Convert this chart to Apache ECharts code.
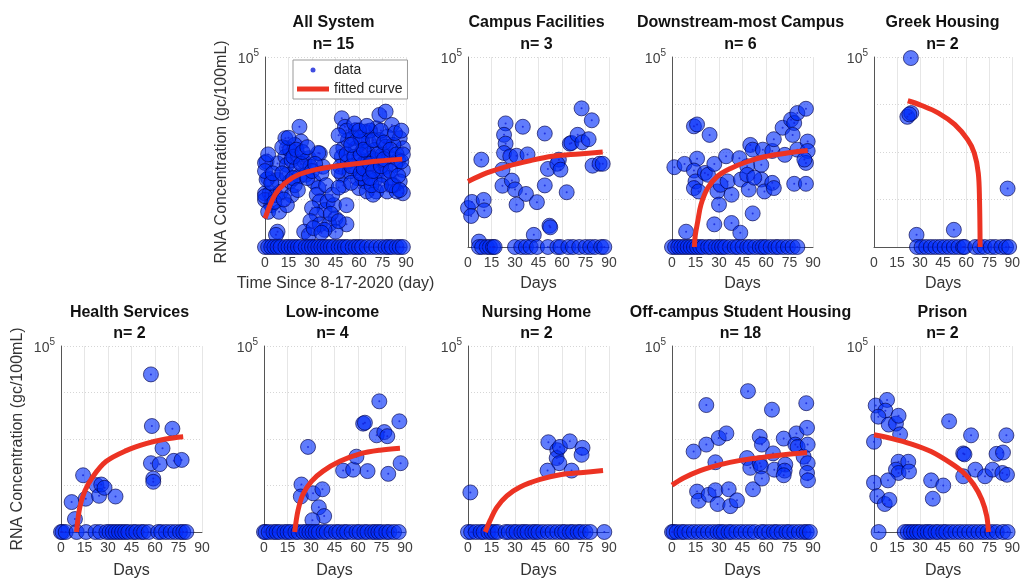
<!DOCTYPE html>
<html>
<head>
<meta charset="utf-8">
<script src="https://cdn.jsdelivr.net/npm/echarts@6/dist/echarts.min.js"></script>
<style>
  html, body { margin: 0; padding: 0; background: #ffffff; }
  #chart { width: 1023px; height: 580px; }
</style>
</head>
<body>
<div id="chart"></div>
<script>
// ---- Sampling sites and sample counts ----
const siteNames = ['All System', 'Campus Facilities', 'Downstream-most Campus', 'Greek Housing',
  'Health Services', 'Low-income', 'Nursing Home', 'Off-campus Student Housing', 'Prison'];
const siteCounts = [15, 3, 6, 2, 2, 4, 2, 18, 2];

// Non-detect samples sit on the axis floor (gc/100mL)
const nonDetectLevel = 10;

// ---- Detected samples: [day since 8-17-2020, RNA concentration gc/100mL] ----
const allSystemPts = [
  [1, 630], [2, 280], [0, 135], [3, 135], [0, 98], [4, 76], [2, 55], [8, 575], [8, 257], [7, 123],
  [9, 55], [8, 21], [13, 1950], [14, 1200], [13, 794], [16, 1100], [14, 537], [17, 676], [14, 331],
  [16, 240], [10, 145], [17, 123], [14, 76], [22, 3390], [23, 1660], [21, 871], [20, 457], [22, 309],
  [19, 200], [25, 631], [26, 331], [28, 741], [29, 490], [35, 933], [37, 490], [31, 240], [34, 174],
  [33, 126], [35, 91], [38, 60], [30, 66], [33, 48], [29, 35], [35, 30], [40, 91], [44, 76], [45, 40],
  [41, 30], [52, 76], [52, 30], [25, 21], [28, 18], [45, 21], [38, 23], [19, 1410], [7, 18], [0, 589],
  [1, 263], [0, 117], [34, 955],
  [0, 398], [2, 891], [4, 224], [5, 355], [6, 89], [11, 1260], [11, 355], [12, 100], [15, 1995], [18, 794],
  [18, 282], [20, 1120], [21, 158], [23, 562], [24, 1000], [27, 1260], [27, 282], [30, 398], [32, 562],
  [36, 355], [39, 200], [42, 50], [31, 25], [36, 20], [43, 126], [47, 35],
  [49, 5130], [51, 3390], [58, 2880], [50, 1200], [49, 794], [48, 490], [49, 331], [50, 200], [56, 1950],
  [58, 1200], [60, 741], [58, 457], [59, 282], [60, 174], [64, 2690], [66, 1660], [65, 1020], [64, 631],
  [66, 389], [64, 240], [65, 148], [71, 3160], [73, 1780], [70, 1100], [71, 676], [73, 417], [70, 257],
  [71, 148], [69, 126], [73, 6030], [77, 7080], [81, 3720], [78, 2090], [77, 1290], [79, 794], [77, 490],
  [79, 282], [78, 148], [86, 1950], [88, 1200], [85, 676], [88, 417], [86, 240], [88, 135], [82, 1410],
  [83, 537], [82, 200], [53, 1780], [53, 631], [54, 389], [62, 1660], [62, 537], [62, 282], [68, 741],
  [68, 200], [75, 871], [75, 331], [84, 148],
  [46, 1000], [47, 398], [47, 178], [52, 2820], [52, 891], [55, 501], [55, 224], [57, 3980], [57, 794],
  [61, 1995], [61, 891], [61, 355], [63, 1120], [63, 447], [67, 2820], [67, 562], [67, 282], [69, 1780],
  [69, 398], [72, 891], [74, 2820], [74, 501], [74, 200], [76, 1585], [76, 708], [80, 1120], [80, 398],
  [81, 200], [83, 2510], [84, 891], [85, 316], [87, 631], [87, 2820], [88, 891], [86, 158], [60, 2820],
  [55, 1410], [47, 2240], [65, 3550]
];
const campusFacilitiesPts = [
  [0, 66], [2.5, 89], [2, 45], [8.5, 690], [10, 98], [10.4, 59], [7, 13], [24, 4000], [23, 2300], [24, 1500],
  [23, 950], [22, 425], [22, 195], [27, 810], [31, 835], [28, 250], [30, 163], [31, 78], [35, 3400], [38, 890],
  [37, 131], [44, 88], [42, 18], [49, 2450], [51, 440], [49, 198], [52, 28], [52.5, 26], [58, 690], [57, 565],
  [59, 425], [63, 142], [65, 1500], [66, 1550], [70, 2300], [72.5, 8300], [73, 1600], [77, 1860], [79, 4650],
  [79.5, 515], [84, 565], [86, 565]
];
const downstreamPts = [
  [1.5, 479], [8, 562], [9, 21], [14, 3470], [16, 3800], [24, 2290], [16, 724], [14, 407], [15, 240], [14, 174],
  [17, 148], [21, 363], [23, 331], [27, 562], [34.5, 813], [29, 148], [31, 204], [35.5, 240], [38, 126], [30, 78],
  [27, 30], [38, 32], [43.6, 20], [51.5, 51], [48, 501], [44, 263], [49, 162], [48, 331], [50, 1410], [51.5, 1120],
  [58, 1120], [57, 537], [57, 263], [59, 148], [64, 1050], [65, 1860], [64, 224], [65, 174], [70.6, 3240],
  [76, 4790], [78, 4070], [77, 2290], [80, 6610], [85.5, 8130], [72, 871], [80, 1120], [86.6, 1660], [86.6, 1050],
  [85.5, 589], [84.5, 692], [78, 214], [85.5, 214], [43, 741], [52.5, 288]
];
const greekHousingPts = [[24, 95000], [21.7, 5500], [24.3, 6600], [23, 6200], [27.7, 18], [52, 23], [87, 170]];
const healthServicesPts = [
  [6.8, 44], [8.9, 19], [14.1, 166], [15.8, 52], [22.6, 102], [24.3, 60], [25.7, 105], [27.8, 89], [34.8, 58],
  [57.4, 24500], [58, 1900], [57.4, 302], [58.9, 141], [58.9, 120], [63, 288], [64.8, 631], [71.1, 1660],
  [72, 339], [77, 355]
];
const lowIncomePts = [
  [28.1, 676], [23.9, 105], [23.5, 58], [31.3, 68], [37.3, 83], [35, 34], [38.4, 22], [30.9, 18], [50.5, 209],
  [56.9, 219], [59, 417], [63.3, 2140], [64.4, 2240], [66.1, 204], [73.6, 6460], [71.9, 1200], [76.8, 1410],
  [78.7, 1150], [79.3, 178], [86.4, 2400], [87.2, 302]
];
const nursingHomePts = [
  [1.5, 71], [51.3, 851], [57, 575], [56.6, 389], [58.3, 302], [58.7, 676], [65, 891], [66.1, 209],
  [73.1, 646], [72.5, 457], [50.8, 209]
];
const offCampusPts = [
  [13.8, 537], [21.9, 5370], [21.9, 759], [27.7, 316], [29.8, 1050], [34.7, 1320], [16, 74], [17, 47], [23.4, 63],
  [27.7, 79], [29.1, 40], [36.2, 83], [37.2, 36], [41.5, 48], [48.5, 10700], [47.9, 389], [50, 240], [51.7, 83],
  [56, 1120], [57.4, 759], [56, 302], [56.8, 257], [57.4, 141], [63.8, 4270], [64.5, 490], [65.3, 219],
  [71.3, 1020], [72.3, 282], [71.9, 209], [71.3, 166], [79.4, 1320], [78.7, 759], [80.2, 676], [84, 417],
  [85.7, 5890], [86.2, 1740], [86.6, 759], [86.6, 302], [86.2, 186], [86.8, 129]
];
const prisonPts = [
  [1.1, 5250], [8.5, 6920], [7.4, 4070], [2.8, 3020], [9.6, 2040], [14.3, 2140], [16, 3160], [17, 1260], [0, 871],
  [16, 324], [22.3, 324], [14.3, 219], [16, 186], [22.8, 200], [0, 115], [9.1, 129], [2.1, 59], [7, 40], [10, 49],
  [37.2, 129], [45.1, 100], [38.3, 52], [48.9, 2400], [63.2, 1200], [58.1, 490], [58.9, 468], [58.1, 158],
  [66, 219], [72.3, 158], [77.2, 219], [79.8, 479], [84, 513], [86.2, 1200], [83.6, 186], [86.6, 170]
];

// ---- Days with non-detect samples ----
const allSystemND = [0, 2, 4, 6, 8, 10, 13, 15, 17, 19, 21, 23, 26, 28, 30, 32, 34, 36, 38, 40, 42, 44, 47, 49,
  51, 53, 56, 58, 60, 62, 65, 68, 71, 74, 77, 79, 81, 84, 86, 88];
const campusFacilitiesND = [7, 9, 12, 14, 16, 17, 30, 34, 37, 40, 44, 51, 57, 59, 64, 67, 71, 75, 78, 81, 85, 87];
const downstreamND = [0, 2, 4, 6, 8, 10, 12, 14, 16, 18, 20, 23, 25, 28, 30, 32, 34, 37, 40, 42, 45, 48, 50, 53,
  56, 58, 60, 63, 66, 68, 71, 74, 77, 80];
const greekHousingND = [28, 31, 34, 37, 40, 43, 46, 49, 52, 55, 58, 59, 66, 69, 72, 76, 79, 83, 86, 88];
const healthServicesND = [0, 1, 3, 10, 16, 22, 25, 29, 31, 33, 35, 37, 39, 41, 43, 46, 48, 51, 53, 56, 62, 64,
  67, 70, 73, 76, 78, 80];
const lowIncomeND = [0, 1, 3, 6, 8, 10, 13, 15, 17, 20, 22, 25, 27, 29, 31, 33, 35, 38, 40, 43, 46, 48, 51, 53,
  56, 59, 61, 64, 66, 69, 71, 73, 75, 78, 80, 83, 86];
const nursingHomeND = [0, 2, 5, 8, 10, 13, 15, 17, 19, 24, 26, 29, 31, 34, 36, 38, 41, 43, 45, 48, 51, 54, 57,
  60, 62, 65, 67, 70, 72, 75, 78, 87];
const offCampusND = [0, 1, 3, 6, 8, 11, 14, 17, 20, 23, 26, 29, 31, 33, 36, 38, 41, 44, 47, 50, 53, 57, 59, 62,
  65, 67, 70, 73, 75, 78, 81, 84, 86, 88];
const prisonND = [3, 20, 22, 24, 26, 28, 30, 33, 35, 37, 40, 42, 45, 47, 50, 53, 56, 59, 62, 65, 68, 71, 74, 77,
  80, 84, 87];

// ---- Fitted trend curves: [day, gc/100mL] ----
const allSystemFit = [[0, 40], [6.2, 123], [12.6, 219], [21.2, 331], [34, 437], [47, 513], [59.7, 575], [72.6, 646], [87.6, 708]];
const campusFacilitiesFit = [[0, 240], [12, 363], [25, 500], [40, 660], [54, 810], [71, 910], [86, 1000]];
const downstreamFit = [[14.3, 10], [14.9, 18], [16.4, 34], [18.5, 78], [22.8, 174], [29, 309], [37.7, 457], [48.3, 631], [58.9, 794], [71.7, 933], [86.6, 1070]];
const greekHousingFit = [[22, 12000], [31, 9550], [42, 6600], [52.5, 3800], [61, 1820], [65.3, 955], [67.9, 363], [68.7, 100], [69.1, 10]];
const healthServicesFit = [[9.9, 10], [12, 34], [15.2, 76], [20.5, 158], [28.9, 331], [41.6, 562], [54.2, 794], [66.9, 1000], [78, 1120]];
const lowIncomeFit = [[19.6, 10], [21.7, 29], [24.9, 65], [30.3, 123], [37.7, 204], [48.4, 331], [61.2, 479], [74, 575], [86.8, 631]];
const nursingHomeFit = [[11, 10], [14.2, 18], [18.4, 34], [24.8, 60], [33.3, 93], [46, 135], [58.7, 170], [73.5, 191], [86.2, 209]];
const offCampusFit = [[0, 102], [7.4, 145], [18, 209], [30.9, 282], [43.6, 347], [56.4, 398], [71.3, 457], [86.2, 513]];
const prisonFit = [[0, 1230], [11.7, 1020], [24.5, 776], [37.2, 537], [50, 302], [58.5, 186], [64.9, 105], [70.2, 50], [73.4, 22], [74.5, 10]];

const sitePoints = [allSystemPts, campusFacilitiesPts, downstreamPts, greekHousingPts, healthServicesPts,
  lowIncomePts, nursingHomePts, offCampusPts, prisonPts];
const siteNonDetects = [allSystemND, campusFacilitiesND, downstreamND, greekHousingND, healthServicesND,
  lowIncomeND, nursingHomeND, offCampusND, prisonND];
const siteFits = [allSystemFit, campusFacilitiesFit, downstreamFit, greekHousingFit, healthServicesFit,
  lowIncomeFit, nursingHomeFit, offCampusFit, prisonFit];

// ---- Panel layout (pixels) ----
const PANEL_W = 141;
const panelBoxes = [
  { left: 265, top: 57, height: 190, row: 0 },
  { left: 468, top: 57, height: 190, row: 0 },
  { left: 672, top: 57, height: 190, row: 0 },
  { left: 874, top: 57, height: 190, row: 0 },
  { left: 61, top: 346, height: 189, row: 1 },
  { left: 264, top: 346, height: 189, row: 1 },
  { left: 468, top: 346, height: 189, row: 1 },
  { left: 672, top: 346, height: 189, row: 1 },
  { left: 874, top: 346, height: 189, row: 1 }
];
const yLabelPanels = [0, 4];
const xAxisNames = ['Time Since 8-17-2020 (day)', 'Days', 'Days', 'Days', 'Days', 'Days', 'Days', 'Days', 'Days'];

const FONT = '"Liberation Sans", Arial, Helvetica, sans-serif';
const CIRCLE_FILL = 'rgba(0, 45, 250, 0.78)';
const CIRCLE_EDGE = 'rgba(0, 0, 70, 0.8)';
const FIT_RED = '#ec3323';

const grids = [], xAxes = [], yAxes = [], titles = [], series = [];

panelBoxes.forEach((box, i) => {
  grids.push({ left: box.left, top: box.top, width: PANEL_W, height: box.height, containLabel: false });

  titles.push({
    text: siteNames[i] + '\nn= ' + siteCounts[i],
    left: box.left + PANEL_W / 2 - 2,
    top: box.row === 0 ? 12 : 302,
    textAlign: 'center',
    padding: 0,
    textStyle: { fontFamily: FONT, fontSize: 16, fontWeight: 'bold', color: '#111', lineHeight: box.row === 0 ? 22 : 21 }
  });

  xAxes.push({
    gridIndex: i, type: 'value', min: 0, max: 90, interval: 15,
    name: xAxisNames[i], nameLocation: 'middle', nameGap: box.row === 0 ? 29 : 31,
    nameTextStyle: { fontFamily: FONT, fontSize: 16, color: '#333' },
    axisLine: { show: true, onZero: false, lineStyle: { color: '#555', width: 1 } },
    axisTick: { show: false },
    axisLabel: { fontFamily: FONT, fontSize: 14, color: '#404040', margin: 9, showMinLabel: true, showMaxLabel: true },
    splitLine: { show: true, lineStyle: { color: '#e6e6e6', width: 1 } }
  });

  yAxes.push({
    gridIndex: i, type: 'log', logBase: 10, min: 10, max: 100000,
    name: yLabelPanels.includes(i) ? 'RNA Concentration (gc/100mL)' : '',
    nameLocation: 'middle', nameGap: 35, nameRotate: 90,
    nameTextStyle: { fontFamily: FONT, fontSize: 16, color: '#333' },
    axisLine: { show: true, lineStyle: { color: '#555', width: 1 } },
    axisTick: { show: false },
    axisLabel: {
      margin: 6, showMaxLabel: true,
      formatter: v => (Math.round(Math.log10(v)) === 5 ? '{b|10}{s|5}' : ''),
      rich: {
        b: { fontFamily: FONT, fontSize: 14, color: '#404040', lineHeight: 18, verticalAlign: 'bottom' },
        s: { fontFamily: FONT, fontSize: 10, color: '#404040', lineHeight: 18, verticalAlign: 'top' }
      }
    },
    splitLine: { show: true, lineStyle: { color: '#d6d6d6', width: 1, type: [1, 2] } }
  });

  const pts = sitePoints[i].concat(siteNonDetects[i].map(d => [d, nonDetectLevel]));

  series.push({
    type: 'scatter', name: 'sample circles', xAxisIndex: i, yAxisIndex: i, data: pts,
    symbol: 'circle', symbolSize: 15, clip: false, silent: true, z: 2,
    itemStyle: { color: CIRCLE_FILL, borderColor: CIRCLE_EDGE, borderWidth: 1 }
  });
  series.push({
    type: 'scatter', name: 'data', xAxisIndex: i, yAxisIndex: i, data: pts,
    symbol: 'circle', symbolSize: 2, clip: false, silent: true, z: 3,
    itemStyle: { color: '#1020d8' }
  });
  series.push({
    type: 'line', name: 'fitted curve', xAxisIndex: i, yAxisIndex: i, data: siteFits[i],
    smooth: 0.35, showSymbol: false, silent: true, z: 4,
    lineStyle: { color: FIT_RED, width: 5, cap: 'butt' }, itemStyle: { color: FIT_RED }
  });
});

const chart = echarts.init(document.getElementById('chart'), null, { renderer: 'canvas' });
chart.setOption({
  animation: false,
  backgroundColor: '#ffffff',
  textStyle: { fontFamily: FONT },
  title: titles,
  legend: {
    data: [{ name: 'data', icon: 'circle' }, { name: 'fitted curve', icon: 'rect' }],
    orient: 'vertical', left: 293, top: 60,
    itemWidth: 32, itemHeight: 5, itemGap: 5,
    padding: [3, 5, 3, 4],
    backgroundColor: '#ffffff', borderColor: '#999', borderWidth: 1, borderRadius: 0,
    textStyle: { fontFamily: FONT, fontSize: 14, color: '#262626' },
    selectedMode: false
  },
  grid: grids,
  xAxis: xAxes,
  yAxis: yAxes,
  series: series
});
</script>
</body>
</html>
